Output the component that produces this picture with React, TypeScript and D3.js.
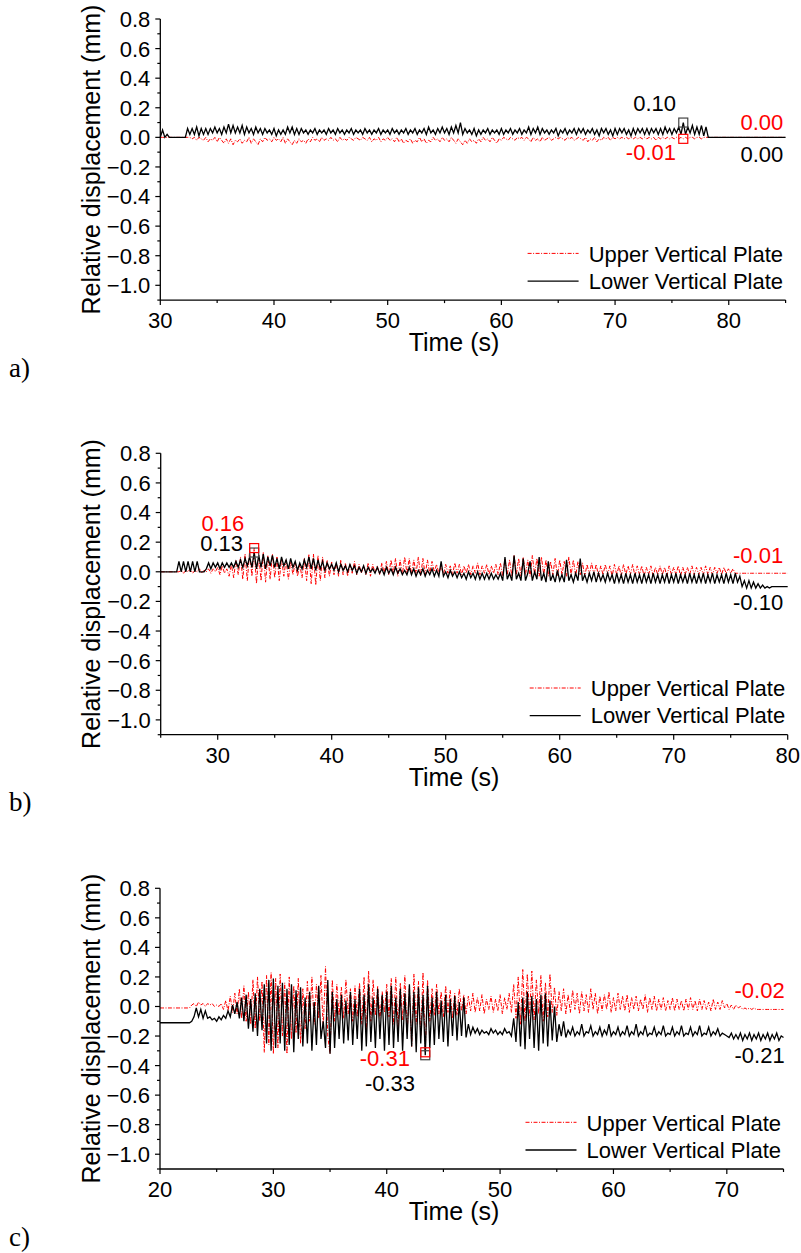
import React from 'react';
import * as d3 from 'd3';

// Sampling step (s); values are in hundredths of mm
const DT = 0.2;

// ---------- Panel a) 30–85 s ----------
const upperA = [
  0,0,0,0,0, 0,0,0,0,0, 0,0,0,0,-1, 0,-2,0,-1,-2, 0,-3,-1,-2,0,
  -3,0,-2,-4,-1, -4,-1,-5,-2,-3, -1,-4,-2,-3,0, -4,-1,-3,-5,-1, -3,0,-2,-1,-3,
  0,-2,-1,-3,0, -4,-1,-3,-5,-2, -4,-1,-3,-2,-4, -1,-3,0,-2,-1, -3,0,-2,-1,-2,
  0,-2,-1,-3,0, -2,-1,-2,0,-1, -2,0,-1,-2,0, -1,-2,0,-3,-1, -2,0,-3,-1,-2,
  0,-2,-1,-3,0, -3,-1,-4,-2,-3, -1,-4,-2,-3,0, -3,-1,-4,-2,-3, 0,-2,-1,-3,0,
  -2,-1,-3,0,-2, -4,-1,-3,-5,-2, -4,-1,-3,-2,-4, -1,-3,0,-2,-1, -3,0,-2,-4,-1,
  -2,0,-1,-2,0, -1,-2,0,-1,0, -2,0,-1,-3,0, -2,-1,-3,0,-2, -1,0,-2,-1,0,
  -1,0,-1,-2,0, -1,0,-2,-1,0, -1,-2,0,-3,-1, -2,0,-3,-1,-2, 0,-1,0,-2,0,
  -1,0,-1,0,-1, 0,-1,0,-1,0, -1,0,-1,0,-1, 0,-1,0,-2,0, -1,0,-1,0,-1,
  0,-1,0,-1,0, -1,0,-1,0,0, -1,0,0,-1,0, 0,0,0,0,0, 0,0,0,0,0,
  0,0,0,0,0, 0,0,0,0,0, 0,0,0,0,0, 0,0,0,0,0, 0,0,0,0,0,
  0,
];
const lowerA = [
  0,5,0,2,0, 0,0,0,0,0, 0,0,6,2,6, 2,7,1,6,2, 6,2,6,3,7,
  3,6,2,7,3, 9,3,8,3,7, 3,8,2,7,3, 6,2,7,3,6, 2,6,3,5,2,
  6,1,5,2,5, 2,7,3,7,2, 6,2,6,3,5, 2,5,3,6,2, 5,3,5,2,6,
  3,5,2,6,3, 5,2,5,3,6, 2,5,3,5,2, 6,3,5,2,5, 3,6,2,5,3,
  5,2,6,3,5, 2,5,3,6,2, 5,3,6,2,5, 3,6,2,7,3, 5,2,6,3,7,
  3,6,2,7,3, 8,3,10,2,6, 3,5,2,6,1, 5,2,5,3,6, 2,5,3,5,2,
  6,2,5,3,6, 2,5,3,6,2, 5,3,7,2,6, 3,7,2,6,3, 5,2,5,3,6,
  1,5,3,6,2, 5,3,6,2,6, 3,6,2,5,3, 6,2,5,1,6, 3,6,2,5,1,
  6,2,6,3,6, 2,5,1,6,2, 6,3,6,2,6, 2,6,3,6,2, 6,2,7,3,6,
  2,6,3,7,2, 10,2,7,3,8, 2,7,2,8,1, 7,0,0,0,0, 0,0,0,0,0,
  0,0,0,0,0, 0,0,0,0,0, 0,0,0,0,0, 0,0,0,0,0, 0,0,0,0,0,
  0,
];

// ---------- Panel b) 25–80 s ----------
const upperB = [
  0,0,0,0,0, 0,0,0,0,1, -1,1,0,2,-1, 1,0,2,-1,1, 0,2,-1,2,0,
  3,-2,4,-1,2, -3,5,-4,8,-2, 10,-5,12,-6,14, -3,16,-8,12,-6, 13,-7,11,-5,12,
  -4,10,-6,9,-3, 8,-5,7,-2,6, -3,5,-4,9,-6, 12,-8,12,-9,11, -6,10,-4,8,-3,
  7,-2,6,-3,8, -2,6,-3,5,-1, 7,-2,5,-1,4, -2,6,-3,5,-1, 4,-2,6,-1,7,
  -2,8,-1,9,-3, 8,-2,10,-1,9, -2,8,-1,10,-3, 9,-2,8,-1,7, 0,5,-1,4,-2,
  5,-1,4,-2,6, -1,5,-2,4,-1, 5,-2,4,-1,6, -2,4,-1,5,-2, 4,-1,5,-2,6,
  -3,9,-2,8,-3, 11,-2,9,-3,10, -2,8,-3,11,-2, 9,-3,10,-2,8, -3,7,-2,9,-3,
  8,-2,7,-3,10, -2,8,-3,7,-2, 6,-3,5,-2,6, -2,5,-3,4,-2, 5,-2,4,-3,5,
  -2,4,-3,5,-2, 4,-2,5,-3,4, -2,4,-3,3,-2, 4,-3,3,-2,4, -2,3,-3,4,-2,
  3,-2,4,-3,3, -2,3,-2,4,-2, 3,-2,3,-2,4, -2,3,-2,3,-1, 3,-2,3,-1,2,
  -1,2,-1,-1,-1, -1,-1,-1,-1,-1, -1,-1,-1,-1,-1, -1,-1,-1,-1,-1, -1,-1,-1,-1,-1,
  -1,
];
const lowerB = [
  0,0,0,0,0, 0,0,0,7,0, 7,0,7,0,7, 0,7,0,0,0, 2,6,2,6,3,
  6,2,6,3,6, 3,6,3,7,3, 8,3,9,4,10, 3,13,2,11,3, 12,2,10,4,11,
  3,9,2,10,4, 8,2,9,3,7, 1,6,2,8,3, 10,2,9,1,8, 2,7,1,6,2,
  5,1,6,0,5, 1,4,0,5,1, 4,-1,3,0,4, -1,3,0,2,-1, 3,-1,2,-2,3,
  -1,2,-2,3,-1, 2,-2,1,-2,3, -2,2,-3,1,-2, 2,-3,1,-2,2, -3,1,-3,7,-3,
  0,-4,1,-3,0, -4,0,-4,-1,-5, 0,-4,-1,-5,0, -5,-1,-5,-1,-5, -1,-5,-2,-5,-1,
  -6,10,-5,-1,-6, 11,-5,-1,-6,9, -6,-1,7,-6,0, -5,10,-6,-1,-7, 7,-6,-2,-7,1,
  -6,-2,-7,8,-6, -2,-7,-1,-6,9, -6,-2,-7,-1,-6, 0,-7,-1,-6,-2, -7,-1,-6,-2,-8,
  -1,-7,-2,-8,-1, -7,-2,-8,-1,-7, -2,-8,-1,-7,-2, -8,-1,-7,-2,-8, -2,-7,-1,-8,-2,
  -7,-1,-8,-2,-7, -2,-8,-1,-7,-2, -8,-2,-7,-1,-8, -2,-7,-1,-8,-2, -7,-2,-8,-1,-7,
  -2,-8,-1,-7,-3, -10,-6,-11,-6,-11, -7,-11,-8,-11,-9, -11,-10,-11,-10,-10, -10,-10,-10,-10,-10,
  -10,
];

// ---------- Panel c) 20–75 s ----------
const upperC = [
  -1,-1,-1,-1,-1, -1,-1,-1,-1,-1, -1,-1,-1,-1,1, 2,0,3,1,2, 0,2,1,2,0,
  1,0,2,-2,4, -3,7,-4,9,-5, 12,-8,14,-10,10, -12,18,-15,20,-10, 17,-31,21,-26,23,
  -32,19,-28,22,-20, 16,-32,20,-22,14, -18,19,-25,12,-15, 17,-10,20,-12,15, -8,21,-15,27,-20,
  -32,18,-10,15,-6, 13,-8,18,-5,12, -10,14,-7,16,-12, 20,-16,24,-10,18, -6,14,-8,10,-4,
  15,-7,19,-12,20, -14,16,-9,21,-18, 14,-27,22,-12,17, -20,23,-31,18,-10, 12,-6,15,-5,10,
  -7,14,-4,11,-8, 9,-6,12,-3,8, -5,7,-3,9,-4, 6,-3,8,-5,5, -2,7,-4,5,-3,
  8,-5,6,-2,9, -4,15,-8,20,-12, 25,-10,22,-6,24, -9,18,-5,21,-10, 16,-7,22,-4,13,
  -6,10,-3,12,-5, 8,-4,11,-2,9, -5,10,-3,8,-4, 12,-2,9,-5,7, -3,8,-2,10,-4,
  6,-3,9,-2,7, -3,8,-4,6,-2, 7,-3,5,-2,8, -4,6,-2,7,-3, 5,-2,6,-3,4,
  -2,6,-3,5,-2, 4,-3,5,-2,6, -2,4,-3,5,-2, 4,-2,3,-3,5, -2,3,-2,4,-1,
  2,-2,1,-2,1, -1,0,-2,-1,-2, -1,-2,-1,-2,-2, -2,-2,-2,-2,-2, -2,-2,-2,-2,-2,
  -2,
];
const lowerC = [
  -11,-11,-11,-11,-11, -11,-11,-11,-11,-11, -11,-11,-11,-11,-10, -7,-1,-7,-2,-8, -3,-8,-7,-9,-8,
  -10,-7,-9,-6,-8, -3,-7,1,-5,3, -8,6,-10,8,-15, 5,-17,9,-20,12, -16,15,-25,18,-30,
  19,-28,14,-25,16, -30,12,-26,15,-31, 11,-22,13,-27,6, -25,10,-30,3,-26, 14,-22,-10,-28,18,
  -32,10,-28,5,-22, 8,-25,4,-23,10, -26,5,-22,12,-30, 8,-27,15,-24,6, -28,12,-22,8,-30,
  10,-26,14,-28,6, -24,12,-30,9,-22, 15,-27,10,-31,13, -25,8,-33,14,-28, 6,-26,10,-22,4,
  -24,8,-27,5,-20, 7,-23,3,-20,6, -21,-12,-19,-14,-18, -15,-19,-16,-18,-17, -19,-15,-18,-16,-19,
  -17,-19,-15,-18,-17, -20,-8,-24,3,-27, 6,-29,10,-22,7, -28,5,-30,8,-25, 9,-27,4,-23,0,
  -24,-12,-20,-10,-21, -16,-19,-14,-20,-17, -19,-12,-20,-17,-18, -13,-20,-17,-19,-14, -20,-16,-19,-12,-20,
  -17,-19,-14,-20,-17, -19,-13,-20,-17,-19, -12,-20,-17,-19,-13, -20,-18,-19,-14,-20, -17,-19,-13,-20,-18,
  -19,-14,-20,-17,-19, -13,-20,-18,-19,-14, -20,-17,-19,-13,-20, -18,-19,-14,-20,-17, -19,-15,-20,-18,-19,
  -20,-21,-18,-22,-19, -22,-18,-23,-19,-22, -18,-23,-19,-22,-18, -23,-19,-22,-18,-23, -19,-22,-18,-23,-20,
  -21,
];

// Axis ticks
const yMajorTicks = [0.8, 0.6, 0.4, 0.2, 0.0, -0.2, -0.4, -0.6, -0.8, -1.0];
const yMinorTicks = [0.7, 0.5, 0.3, 0.1, -0.1, -0.3, -0.5, -0.7, -0.9, -1.1];
const xMajorA = [30, 40, 50, 60, 70, 80];
const xMinorA = [35, 45, 55, 65, 75, 85];
const xMajorB = [30, 40, 50, 60, 70, 80];
const xMinorB = [25, 35, 45, 55, 65, 75];
const xMajorC = [20, 30, 40, 50, 60, 70];
const xMinorC = [25, 35, 45, 55, 65, 75];

const seriesNames = ['Upper Vertical Plate', 'Lower Vertical Plate'];

// Marked points [time, value]
const markersA = { upper: [76.0, -0.01], lower: [76.0, 0.10] };
const markersB = { upper: [33.2, 0.16], lower: [33.2, 0.13] };
const markersC = { upper: [43.4, -0.31], lower: [43.4, -0.33] };

// Value labels: text, series, anchor [time, value]
const labelsA = [
  { text: '0.10', s: 'lower', at: [75.36, 0.178] },
  { text: '-0.01', s: 'upper', at: [75.36, -0.153] },
  { text: '0.00', s: 'upper', at: [84.8, 0.05] },
  { text: '0.00', s: 'lower', at: [84.8, -0.164] },
];
const labelsB = [
  { text: '0.16', s: 'upper', at: [32.33, 0.275] },
  { text: '0.13', s: 'lower', at: [32.22, 0.14] },
  { text: '-0.01', s: 'upper', at: [79.6, 0.059] },
  { text: '-0.10', s: 'lower', at: [79.6, -0.258] },
];
const labelsC = [
  { text: '-0.31', s: 'upper', at: [42.05, -0.404] },
  { text: '-0.33', s: 'lower', at: [42.5, -0.569] },
  { text: '-0.02', s: 'upper', at: [75.1, 0.059] },
  { text: '-0.21', s: 'lower', at: [75.1, -0.38] },
];

const panels = [
  { tag: 'a)', t0: 30, t1: 85, upper: upperA, lower: lowerA, xMajor: xMajorA, xMinor: xMinorA,
    markers: markersA, labels: labelsA, px: [160.3, 785.6], py: [300.1, 19] },
  { tag: 'b)', t0: 25, t1: 80, upper: upperB, lower: lowerB, xMajor: xMajorB, xMinor: xMinorB,
    markers: markersB, labels: labelsB, px: [160.7, 787.7], py: [734.7, 453.3] },
  { tag: 'c)', t0: 20, t1: 75, upper: upperC, lower: lowerC, xMajor: xMajorC, xMinor: xMinorC,
    markers: markersC, labels: labelsC, px: [160, 783.5], py: [1169, 888.3] },
];

const SANS = '"Liberation Sans", Arial, Helvetica, sans-serif';
const RED = '#ff0000';
const BLACK = '#000000';

function Panel({ p }: { p: any }) {
  const x = d3.scaleLinear().domain([p.t0, p.t1]).range(p.px);
  const y = d3.scaleLinear().domain([-1.1, 0.8]).range(p.py);
  const toPts = (arr: number[]) => arr.map((v, i) => [p.t0 + i * DT, v / 100] as [number, number]);
  const line = d3.line<[number, number]>().x((d) => x(d[0])).y((d) => y(d[1]));
  const [xl, xr] = p.px;
  const yb = y(-1.1);
  const yt = y(0.8);
  const midY = (yb + yt) / 2;
  const colorOf = (s: string) => (s === 'upper' ? RED : BLACK);
  const sq = 9;
  return (
    <g>
      {/* data */}
      <path d={line(toPts(p.upper)) || ''} fill="none" stroke={RED} strokeWidth={1}
        strokeDasharray="4,1.5,1,1.5" />
      <path d={line(toPts(p.lower)) || ''} fill="none" stroke={BLACK} strokeWidth={1.3} />
      {/* markers */}
      <rect x={x(p.markers.lower[0]) - sq / 2} y={y(p.markers.lower[1]) - sq / 2} width={sq} height={sq}
        fill="none" stroke="#444" strokeWidth={1.2} />
      <rect x={x(p.markers.upper[0]) - sq / 2} y={y(p.markers.upper[1]) - sq / 2} width={sq} height={sq}
        fill="none" stroke={RED} strokeWidth={1.2} />
      {/* labels */}
      {p.labels.map((l: any, i: number) => (
        <text key={i} x={x(l.at[0])} y={y(l.at[1])} textAnchor="end" fontSize={22}
          fontFamily={SANS} fill={colorOf(l.s)}>{l.text}</text>
      ))}
      {/* axes */}
      <line x1={xl} x2={xl} y1={yt} y2={yb} stroke="#000" strokeWidth={1.3} />
      <line x1={xl} x2={xr} y1={yb} y2={yb} stroke="#000" strokeWidth={1.3} />
      {yMajorTicks.map((v) => (
        <g key={'ym' + v}>
          <line x1={xl - 5} x2={xl} y1={y(v)} y2={y(v)} stroke="#000" strokeWidth={1.2} />
          <text x={xl - 10} y={y(v)} dy="0.36em" textAnchor="end" fontSize={22} fontFamily={SANS}>
            {d3.format('.1f')(v)}
          </text>
        </g>
      ))}
      {yMinorTicks.map((v) => (
        <line key={'yn' + v} x1={xl - 3} x2={xl} y1={y(v)} y2={y(v)} stroke="#000" strokeWidth={1.2} />
      ))}
      {p.xMajor.map((v: number) => (
        <g key={'xm' + v}>
          <line x1={x(v)} x2={x(v)} y1={yb} y2={yb + 5} stroke="#000" strokeWidth={1.2} />
          <text x={x(v)} y={yb + 28} textAnchor="middle" fontSize={22} fontFamily={SANS}>{v}</text>
        </g>
      ))}
      {p.xMinor.map((v: number) => (
        <line key={'xn' + v} x1={x(v)} x2={x(v)} y1={yb} y2={yb + 3} stroke="#000" strokeWidth={1.2} />
      ))}
      {/* axis titles */}
      <text x={454} y={yb + 51} textAnchor="middle" fontSize={25} fontFamily={SANS}>Time (s)</text>
      <text transform={`translate(100,${midY}) rotate(-90)`} textAnchor="middle" fontSize={25}
        fontFamily={SANS}>Relative displacement (mm)</text>
      {/* legend */}
      <line x1={xr - 258} x2={xr - 207} y1={yb - 46.7} y2={yb - 46.7} stroke={RED} strokeWidth={1}
        strokeDasharray="4,1.5,1,1.5" />
      <text x={xr - 2.5} y={yb - 38.3} textAnchor="end" fontSize={22} fontFamily={SANS}>{seriesNames[0]}</text>
      <line x1={xr - 258} x2={xr - 207} y1={yb - 19} y2={yb - 19} stroke={BLACK} strokeWidth={1.3} />
      <text x={xr - 2.5} y={yb - 11.3} textAnchor="end" fontSize={22} fontFamily={SANS}>{seriesNames[1]}</text>
      {/* panel tag */}
      <text x={9} y={yb + 76.5} fontSize={27} fontFamily='"Liberation Serif", "Times New Roman", serif'>{p.tag}</text>
    </g>
  );
}

export default function App() {
  return (
    <svg width={801} height={1253} viewBox="0 0 801 1253"
      style={{ position: 'absolute', left: 0, top: 0, background: '#fff', display: 'block' }}>
      <rect x={0} y={0} width={801} height={1253} fill="#fff" />
      {panels.map((p) => (
        <Panel key={p.tag} p={p} />
      ))}
    </svg>
  );
}
